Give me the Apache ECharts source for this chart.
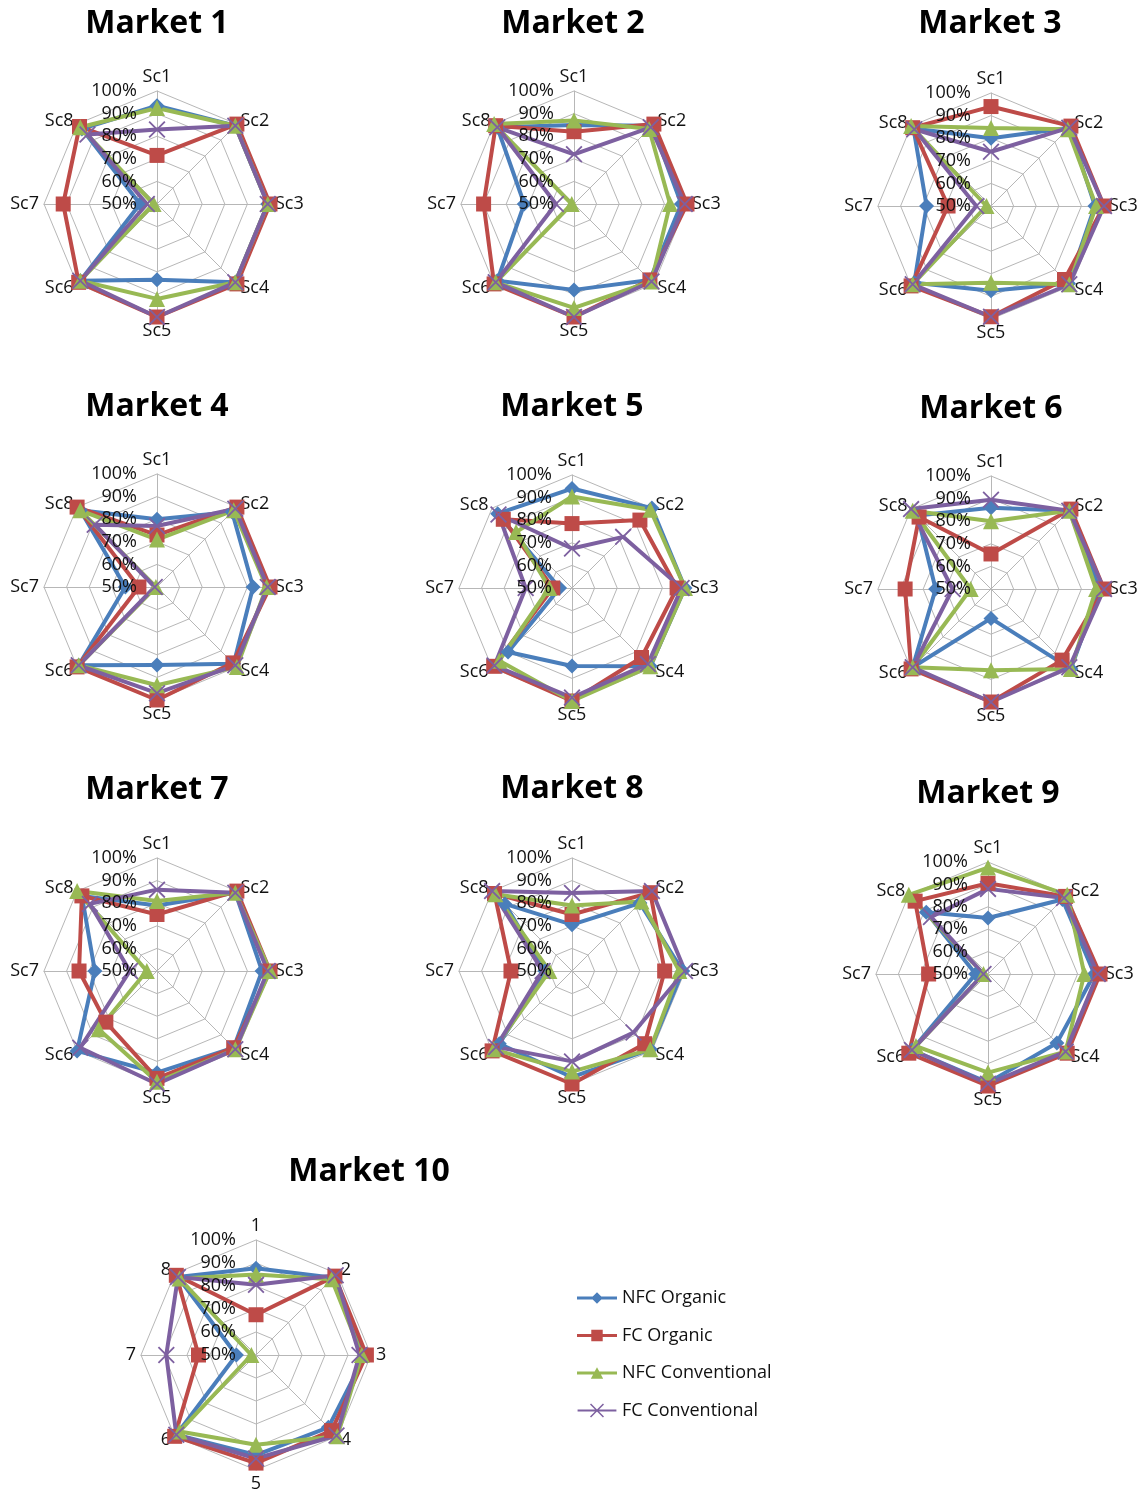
<!DOCTYPE html>
<html>
<head>
<meta charset="utf-8">
<script src="https://cdn.jsdelivr.net/npm/echarts@6/dist/echarts.min.js"></script>
<style>
html,body{margin:0;padding:0;background:#fff;}
#chart{width:1145px;height:1490px;}
</style>
</head>
<body>
<div id="chart"></div>
<script>
// ---------------- DATA ----------------
const marketNames = ['Market 1','Market 2','Market 3','Market 4','Market 5','Market 6','Market 7','Market 8','Market 9','Market 10'];
const scenarioLabels = ['Sc1','Sc2','Sc3','Sc4','Sc5','Sc6','Sc7','Sc8'];
const scenarioLabelsM10 = ['1','2','3','4','5','6','7','8'];
const seriesNames = ['NFC Organic','FC Organic','NFC Conventional','FC Conventional'];
const radialTicks = [0.5, 0.6, 0.7, 0.8, 0.9, 1.0];

// one row per market, values for Sc1..Sc8
const nfcOrganic = [
  [0.935, 0.99, 0.99, 0.99, 0.835, 0.98, 0.575, 0.97],
  [0.85, 0.99, 0.975, 0.975, 0.88, 0.98, 0.72, 0.98],
  [0.80, 0.99, 0.96, 0.985, 0.875, 0.98, 0.785, 0.985],
  [0.80, 0.97, 0.925, 0.98, 0.845, 0.99, 0.64, 0.98],
  [0.94, 1.0, 1.0, 0.99, 0.845, 0.90, 0.555, 0.965],
  [0.86, 0.99, 0.98, 1.0, 0.63, 0.99, 0.745, 0.96],
  [0.79, 0.99, 0.965, 0.98, 0.95, 1.0, 0.775, 0.97],
  [0.705, 0.925, 0.99, 0.99, 0.97, 0.955, 0.62, 0.92],
  [0.75, 0.97, 0.975, 0.935, 0.985, 0.98, 0.555, 0.89],
  [0.877, 0.975, 0.975, 0.945, 0.935, 0.99, 0.585, 0.98]
];
const fcOrganic = [
  [0.715, 1.0, 1.0, 1.0, 1.0, 0.99, 0.915, 0.985],
  [0.82, 1.0, 1.0, 0.975, 1.0, 1.0, 0.9, 0.99],
  [0.94, 1.0, 1.0, 0.96, 0.99, 1.0, 0.69, 0.99],
  [0.73, 1.0, 1.0, 0.975, 1.0, 1.0, 0.58, 1.0],
  [0.785, 0.925, 0.965, 0.935, 1.0, 0.99, 0.585, 0.93],
  [0.655, 1.0, 1.0, 0.945, 1.0, 1.0, 0.88, 0.95],
  [0.75, 1.0, 1.0, 0.98, 0.975, 0.82, 0.845, 0.97],
  [0.75, 0.99, 0.91, 0.955, 1.0, 1.0, 0.77, 0.985],
  [0.905, 0.99, 1.0, 1.0, 1.0, 1.0, 0.765, 0.96],
  [0.675, 0.985, 0.98, 0.965, 0.97, 1.0, 0.75, 0.99]
];
const nfcConventional = [
  [0.925, 0.99, 0.99, 0.99, 0.92, 0.98, 0.515, 0.98],
  [0.87, 0.97, 0.925, 0.985, 0.96, 0.99, 0.51, 1.0],
  [0.845, 0.98, 0.965, 0.99, 0.84, 0.99, 0.52, 1.0],
  [0.71, 0.98, 0.985, 1.0, 0.935, 0.99, 0.505, 0.98],
  [0.905, 0.99, 1.0, 0.99, 1.0, 0.955, 0.60, 0.85],
  [0.80, 0.99, 0.965, 1.0, 0.86, 0.99, 0.59, 0.99],
  [0.81, 0.99, 1.0, 0.99, 0.99, 0.865, 0.545, 1.0],
  [0.79, 0.935, 0.975, 0.99, 0.945, 0.99, 0.60, 0.98],
  [0.975, 1.0, 0.93, 0.99, 0.94, 0.955, 0.52, 1.0],
  [0.85, 0.965, 0.96, 1.0, 0.89, 0.97, 0.52, 0.97]
];
const fcConventional = [
  [0.83, 0.99, 0.99, 0.99, 1.0, 0.98, 0.545, 0.935],
  [0.72, 0.98, 0.99, 0.985, 1.0, 0.99, 0.58, 0.98],
  [0.74, 0.99, 1.0, 0.99, 0.99, 0.99, 0.565, 0.98],
  [0.77, 0.99, 0.99, 0.99, 0.97, 0.99, 0.51, 0.89],
  [0.675, 0.82, 0.985, 0.975, 0.985, 0.985, 0.705, 0.96],
  [0.895, 0.99, 1.0, 0.99, 1.0, 0.99, 0.67, 1.0],
  [0.86, 0.99, 0.99, 0.99, 1.0, 0.98, 0.62, 0.92],
  [0.845, 1.0, 1.0, 0.885, 0.90, 0.975, 0.63, 1.0],
  [0.88, 0.98, 0.99, 0.99, 0.99, 0.98, 0.52, 0.86],
  [0.805, 0.99, 0.95, 0.995, 0.95, 0.99, 0.89, 0.98]
];

// ---------------- LAYOUT / STYLE ----------------
const layout = [
  {cx:157, cy:204, r:113, tx:157, ty:22},
  {cx:574, cy:204, r:113, tx:573, ty:22},
  {cx:991, cy:206, r:113, tx:990, ty:22},
  {cx:157, cy:587, r:113, tx:157, ty:405},
  {cx:572, cy:588, r:113, tx:572, ty:405},
  {cx:991, cy:589, r:113, tx:991, ty:407},
  {cx:157, cy:971, r:113, tx:157, ty:788},
  {cx:572, cy:971, r:113, tx:572, ty:787},
  {cx:988, cy:974, r:112, tx:988, ty:792},
  {cx:256, cy:1355, r:115, tx:369, ty:1170}
];
const FONT = '"Open Sans", "DejaVu Sans", sans-serif';
const TEXT = '#111111';
const GRID = '#b7b7b7';
const colors = ['#4a7ebb', '#be4b48', '#98b954', '#7d60a0'];
const xPath = 'path://M14.57,-0.57 L28.57,13.43 L27.43,14.57 L13.43,0.57 Z M28.57,0.57 L14.57,14.57 L13.43,13.43 L27.43,-0.57 Z';
const symbols = ['diamond', 'rect', 'triangle', xPath];
const symbolSizes = [15, 15, 16, 17];
const legendIcons = [
  'path://M0,5.5 L16.5,5.5 L21,1 L25.5,5.5 L42,5.5 L42,8.5 L25.5,8.5 L21,13 L16.5,8.5 L0,8.5 Z',
  'path://M0,5.5 L15,5.5 L15,1 L27,1 L27,5.5 L42,5.5 L42,8.5 L27,8.5 L27,13 L15,13 L15,8.5 L0,8.5 Z',
  'path://M0,5.5 L18.56,5.5 L21,1 L23.44,5.5 L42,5.5 L42,8.5 L25.06,8.5 L27.5,13 L14.5,13 L16.94,8.5 L0,8.5 Z',
  'path://M0,6 L42,6 L42,8 L0,8 Z M14.57,-0.57 L28.57,13.43 L27.43,14.57 L13.43,0.57 Z M28.57,0.57 L14.57,14.57 L13.43,13.43 L27.43,-0.57 Z'
];
const allSeries = [nfcOrganic, fcOrganic, nfcConventional, fcConventional];

// ECharts radar goes counter-clockwise: reorder Sc1, Sc8, Sc7 ... Sc2 so it reads clockwise
const ccwOrder = [0, 7, 6, 5, 4, 3, 2, 1];
const reorder = arr => ccwOrder.map(k => arr[k]);

const titles = layout.map((L, i) => ({
  text: marketNames[i],
  left: L.tx,
  top: L.ty - 14,
  textAlign: 'center',
  padding: 0,
  textStyle: {fontFamily: FONT, fontSize: 32, fontWeight: 'bold', color: '#000'}
}));

const radars = layout.map((L, i) => {
  const labels = i === 9 ? scenarioLabelsM10 : scenarioLabels;
  return {
    center: [L.cx, L.cy],
    radius: L.r,
    startAngle: 90,
    splitNumber: radialTicks.length - 1,
    shape: 'polygon',
    nameGap: 5,
    indicator: reorder(labels).map(n => ({name: n, min: radialTicks[0], max: radialTicks[radialTicks.length - 1]})),
    axisName: {color: TEXT, fontSize: 18, fontFamily: FONT},
    splitLine: {lineStyle: {color: GRID, width: 1}},
    splitArea: {show: false},
    axisLine: {lineStyle: {color: GRID, width: 1}},
    axisTick: {show: false},
    axisLabel: {show: false}
  };
});

const polars = layout.map(L => ({center: [L.cx, L.cy], radius: L.r}));
const angleAxes = layout.map((L, i) => ({polarIndex: i, type: 'value', startAngle: 90, min: 0, max: 360, show: false}));
const radiusAxes = layout.map((L, i) => ({
  polarIndex: i,
  type: 'value',
  min: radialTicks[0],
  max: radialTicks[radialTicks.length - 1],
  interval: 0.1,
  z: 10,
  axisLine: {show: false},
  axisTick: {show: false},
  splitLine: {show: false},
  axisLabel: {
    margin: 20,
    fontSize: 18,
    fontFamily: FONT,
    color: TEXT,
    formatter: v => Math.round(v * 100) + '%'
  }
}));

const series = [];
layout.forEach((L, i) => {
  allSeries.forEach((arr, s) => {
    series.push({
      type: 'radar',
      radarIndex: i,
      name: seriesNames[s],
      symbol: symbols[s],
      symbolSize: symbolSizes[s],
      lineStyle: {width: 4, color: colors[s]},
      itemStyle: {color: colors[s]},
      emphasis: {disabled: true},
      data: [{value: reorder(arr[i]), name: seriesNames[s]}]
    });
  });
});

const chart = echarts.init(document.getElementById('chart'), null, {renderer: 'canvas'});
chart.setOption({
  backgroundColor: '#ffffff',
  animation: false,
  title: titles,
  legend: {
    orient: 'vertical',
    left: 572,
    top: 1284,
    itemWidth: 40,
    itemHeight: 14,
    itemGap: 19.5,
    textStyle: {fontFamily: FONT, fontSize: 18, color: TEXT, lineHeight: 18},
    data: seriesNames.map((n, k) => ({name: n, icon: legendIcons[k]}))
  },
  radar: radars,
  polar: polars,
  angleAxis: angleAxes,
  radiusAxis: radiusAxes,
  series: series
});
</script>
</body>
</html>
